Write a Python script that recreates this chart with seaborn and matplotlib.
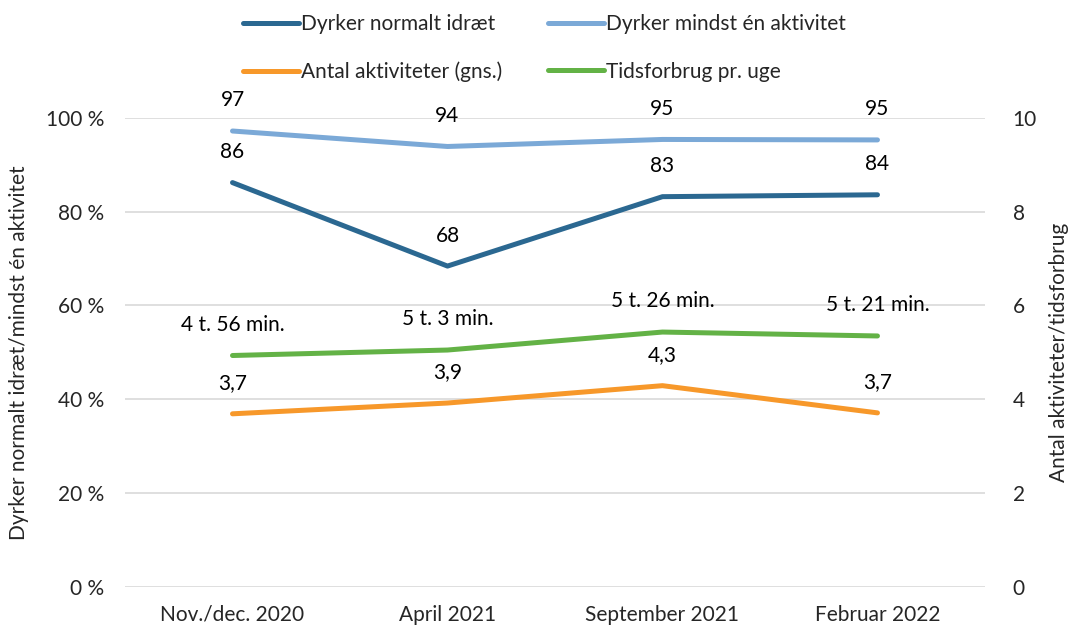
import numpy as np
import pandas as pd
import seaborn as sns
import matplotlib.pyplot as plt

periods = ['Nov./dec. 2020', 'April 2021', 'September 2021', 'Februar 2022']
normalt_idraet = [86.2, 68.4, 83.2, 83.6]
mindst_en = [97.2, 93.9, 95.4, 95.3]
antal_akt = [3.69, 3.92, 4.29, 3.71]
tid_minutter = [296, 303, 326, 321]

pct_ticks = [0, 20, 40, 60, 80, 100]
num_ticks = [0, 2, 4, 6, 8, 10]

colors = {
    'Dyrker normalt idræt': '#2b6891',
    'Dyrker mindst én aktivitet': '#7ba9d7',
    'Antal aktiviteter (gns.)': '#f7982a',
    'Tidsforbrug pr. uge': '#63b246',
}

sns.set_theme(style='white')
plt.rcParams['font.family'] = ['Lato', 'DejaVu Sans']
fs = 15

tid_timer = [m / 60 for m in tid_minutter]
tid_labels = [f"{m // 60} t. {m % 60} min." for m in tid_minutter]

df_left = pd.DataFrame({
    'x': list(range(4)) * 2,
    'value': normalt_idraet + mindst_en,
    'serie': ['Dyrker normalt idræt'] * 4 + ['Dyrker mindst én aktivitet'] * 4,
})
df_right = pd.DataFrame({
    'x': list(range(4)) * 2,
    'value': antal_akt + tid_timer,
    'serie': ['Antal aktiviteter (gns.)'] * 4 + ['Tidsforbrug pr. uge'] * 4,
})

fig = plt.figure(figsize=(10.74, 6.27), dpi=100)
ax = fig.add_axes([0.1164, 0.064, 0.8007, 0.748])
ax2 = ax.twinx()

sns.lineplot(data=df_left, x='x', y='value', hue='serie', palette=colors,
             linewidth=3.6, ax=ax, legend=False, solid_capstyle='round')
sns.lineplot(data=df_right, x='x', y='value', hue='serie', palette=colors,
             linewidth=3.6, ax=ax2, legend=False, solid_capstyle='round')

ax.set_ylim(0, 100)
ax2.set_ylim(0, 10)
ax.set_xlim(-0.5, 3.5)
ax.set_yticks(pct_ticks)
ax.set_yticklabels([f"{t} %" for t in pct_ticks], fontsize=fs)
ax2.set_yticks(num_ticks)
ax2.set_yticklabels([str(t) for t in num_ticks], fontsize=fs)
ax.set_xticks(range(4))
ax.set_xticklabels(periods, fontsize=fs)
ax.grid(axis='y', color='#d9d9d9', linewidth=1.2)
ax.set_axisbelow(True)
ax.tick_params(axis='y', length=0, pad=15)
ax.tick_params(axis='x', length=0, pad=13)
ax2.tick_params(axis='y', length=0, pad=20)
for a in (ax, ax2):
    for s in a.spines.values():
        s.set_visible(False)

ax.set_xlabel('')
ax.set_ylabel('Dyrker normalt idræt/mindst én aktivitet', fontsize=fs, labelpad=12)
ax2.set_ylabel('Antal aktiviteter/tidsforbrug', fontsize=fs, labelpad=9)

def label(a, xs, ys, texts):
    for x, y, t in zip(xs, ys, texts):
        a.annotate(t, (x, y), xytext=(0, 22), textcoords='offset points',
                   ha='center', va='center', fontsize=fs, color='black')

label(ax, range(4), normalt_idraet, [f"{round(v)}" for v in normalt_idraet])
label(ax, range(4), mindst_en, [f"{round(v)}" for v in mindst_en])
label(ax2, range(4), antal_akt, [f"{v:.1f}".replace('.', ',') for v in antal_akt])
label(ax2, range(4), tid_timer, tid_labels)

order = ['Dyrker normalt idræt', 'Antal aktiviteter (gns.)',
         'Dyrker mindst én aktivitet', 'Tidsforbrug pr. uge']
handles = [plt.Line2D([], [], color=colors[k], linewidth=3.6, solid_capstyle='round') for k in order]
fig.legend(handles, order, loc='upper center', bbox_to_anchor=(0.507, 1.007), ncol=2,
           frameon=False, fontsize=fs, handlelength=2.7, handletextpad=0.1,
           columnspacing=2.2, labelspacing=1.31)

fig.savefig('out.png', dpi=100)
